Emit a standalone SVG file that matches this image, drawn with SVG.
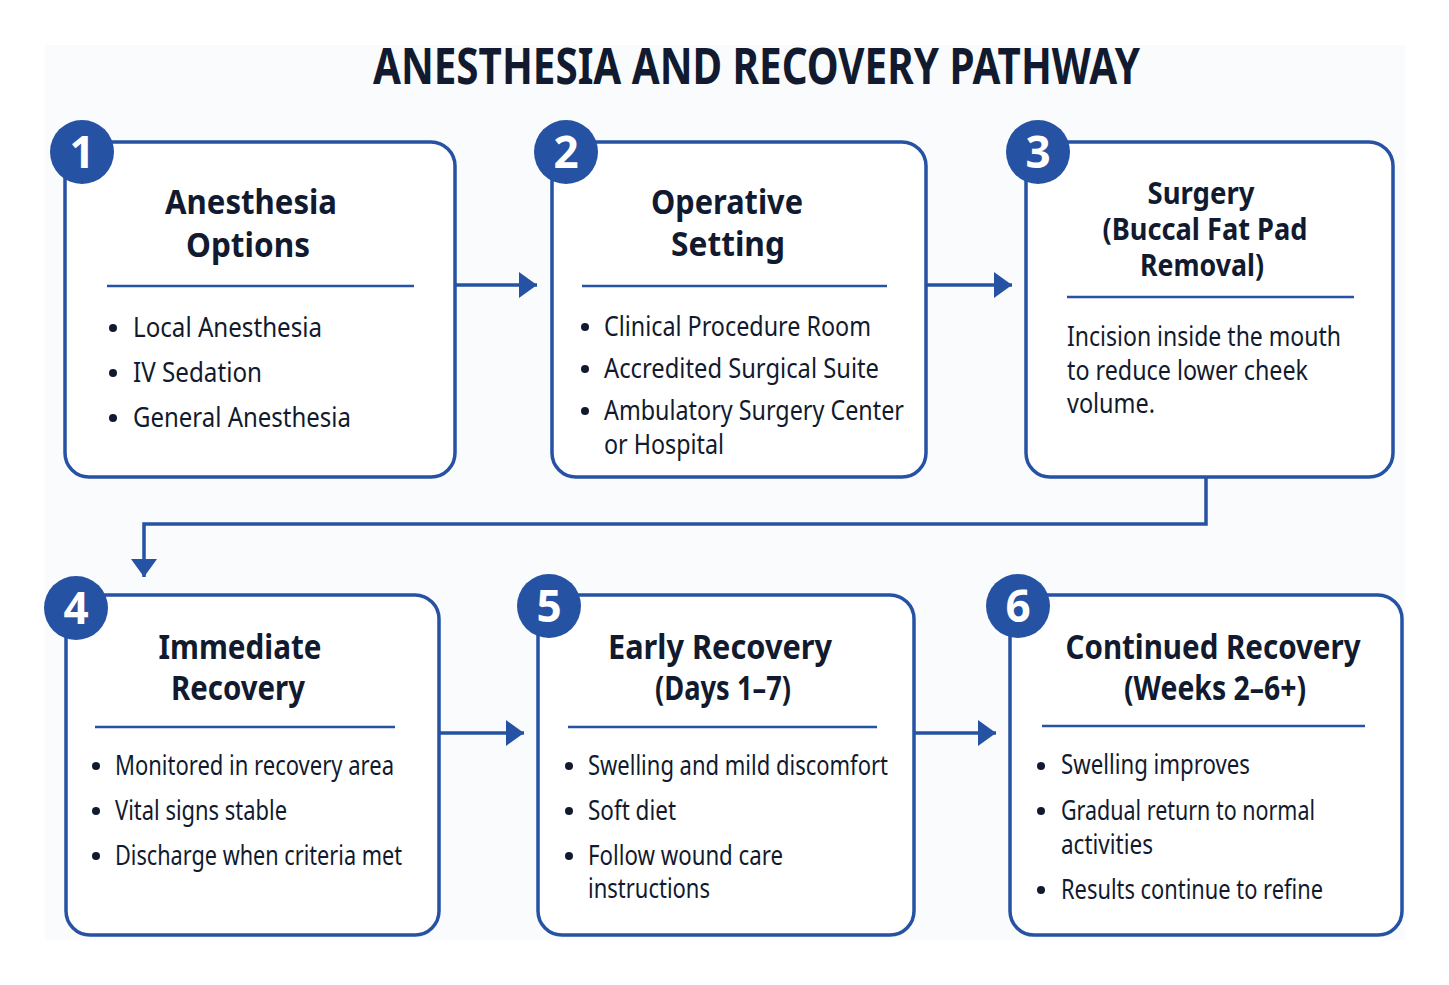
<svg xmlns="http://www.w3.org/2000/svg" width="1449" height="985" viewBox="0 0 1449 985">
<defs>
<style>
.box{fill:#ffffff;stroke:#2652a3;stroke-width:3.5}
.badge{fill:#2652a3}
.num{font-family:"Noto Sans","Liberation Sans",sans-serif;font-weight:700;font-size:44px;fill:#ffffff;text-anchor:middle}
.hd{font-family:"Noto Sans","Liberation Sans",sans-serif;font-weight:700;font-size:34px;fill:#111a2e;text-anchor:middle}
.hs{font-family:"Noto Sans","Liberation Sans",sans-serif;font-weight:700;font-size:30px;fill:#111a2e;text-anchor:middle}
.tx{font-family:"Noto Sans","Liberation Sans",sans-serif;font-size:28px;fill:#111a2e}
.div{stroke:#2652a3;stroke-width:2.5}
.dot{fill:#111a2e}
.con{fill:none;stroke:#2652a3;stroke-width:3.5}
.title{font-family:"Noto Sans","Liberation Sans",sans-serif;font-weight:700;font-size:50px;fill:#111a2e}
</style>
<marker id="ah" markerUnits="userSpaceOnUse" markerWidth="20" markerHeight="26" refX="18" refY="13" orient="auto">
<path d="M0,0 L18,13 L0,26 Z" fill="#2652a3"/>
</marker>
</defs>
<rect x="0" y="0" width="1449" height="985" fill="#ffffff"/>
<rect x="45" y="45" width="1360" height="895" fill="#fafbfc"/>
<text class="title" x="373" y="84" textLength="767" lengthAdjust="spacingAndGlyphs">ANESTHESIA AND RECOVERY PATHWAY</text>

<g id="connectors">
<path class="con" d="M455,285 H537" marker-end="url(#ah)"/>
<path class="con" d="M926,285 H1012" marker-end="url(#ah)"/>
<path class="con" d="M1206,477 V524 H144 V577" marker-end="url(#ah)"/>
<path class="con" d="M439,733 H524" marker-end="url(#ah)"/>
<path class="con" d="M914,733 H996" marker-end="url(#ah)"/>
</g>

<g id="node1">
<rect class="box" x="65" y="142" width="390" height="335" rx="24"/>
<circle class="badge" cx="82" cy="152" r="32"/>
<text class="num" x="82" y="168">1</text>
<text class="hd" x="251" y="214" textLength="172" lengthAdjust="spacingAndGlyphs">Anesthesia</text>
<text class="hd" x="248" y="257" textLength="124" lengthAdjust="spacingAndGlyphs">Options</text>
<line class="div" x1="107" y1="286" x2="414" y2="286"/>
<circle class="dot" cx="113" cy="328" r="4"/>
<text class="tx" x="133" y="337" textLength="189" lengthAdjust="spacingAndGlyphs">Local Anesthesia</text>
<circle class="dot" cx="113" cy="373" r="4"/>
<text class="tx" x="133" y="382" textLength="129" lengthAdjust="spacingAndGlyphs">IV Sedation</text>
<circle class="dot" cx="113" cy="418" r="4"/>
<text class="tx" x="133" y="427" textLength="218" lengthAdjust="spacingAndGlyphs">General Anesthesia</text>
</g>

<g id="node2">
<rect class="box" x="552" y="142" width="374" height="335" rx="24"/>
<circle class="badge" cx="566" cy="152" r="32"/>
<text class="num" x="566" y="168">2</text>
<text class="hd" x="727" y="214" textLength="152" lengthAdjust="spacingAndGlyphs">Operative</text>
<text class="hd" x="728" y="256" textLength="114" lengthAdjust="spacingAndGlyphs">Setting</text>
<line class="div" x1="582" y1="286" x2="887" y2="286"/>
<circle class="dot" cx="585" cy="327" r="4"/>
<text class="tx" x="604" y="336" textLength="267" lengthAdjust="spacingAndGlyphs">Clinical Procedure Room</text>
<circle class="dot" cx="585" cy="369" r="4"/>
<text class="tx" x="604" y="378" textLength="275" lengthAdjust="spacingAndGlyphs">Accredited Surgical Suite</text>
<circle class="dot" cx="585" cy="411" r="4"/>
<text class="tx" x="604" y="420" textLength="300" lengthAdjust="spacingAndGlyphs">Ambulatory Surgery Center</text>
<text class="tx" x="604" y="454" textLength="120" lengthAdjust="spacingAndGlyphs">or Hospital</text>
</g>

<g id="node3">
<rect class="box" x="1026" y="142" width="367" height="335" rx="24"/>
<circle class="badge" cx="1038" cy="152" r="32"/>
<text class="num" x="1038" y="168">3</text>
<text class="hs" x="1201" y="204" textLength="107" lengthAdjust="spacingAndGlyphs">Surgery</text>
<text class="hs" x="1205" y="240" textLength="205" lengthAdjust="spacingAndGlyphs">(Buccal Fat Pad</text>
<text class="hs" x="1202" y="276" textLength="124" lengthAdjust="spacingAndGlyphs">Removal)</text>
<line class="div" x1="1067" y1="297" x2="1354" y2="297"/>
<text class="tx" x="1067" y="346" textLength="274" lengthAdjust="spacingAndGlyphs">Incision inside the mouth</text>
<text class="tx" x="1067" y="380" textLength="241" lengthAdjust="spacingAndGlyphs">to reduce lower cheek</text>
<text class="tx" x="1067" y="413" textLength="88" lengthAdjust="spacingAndGlyphs">volume.</text>
</g>

<g id="node4">
<rect class="box" x="66" y="595" width="373" height="340" rx="24"/>
<circle class="badge" cx="76" cy="608" r="32"/>
<text class="num" x="76" y="624">4</text>
<text class="hd" x="240" y="659" textLength="163" lengthAdjust="spacingAndGlyphs">Immediate</text>
<text class="hd" x="238" y="700" textLength="134" lengthAdjust="spacingAndGlyphs">Recovery</text>
<line class="div" x1="95" y1="727" x2="395" y2="727"/>
<circle class="dot" cx="96" cy="766" r="4"/>
<text class="tx" x="115" y="775" textLength="279" lengthAdjust="spacingAndGlyphs">Monitored in recovery area</text>
<circle class="dot" cx="96" cy="811" r="4"/>
<text class="tx" x="115" y="820" textLength="172" lengthAdjust="spacingAndGlyphs">Vital signs stable</text>
<circle class="dot" cx="96" cy="856" r="4"/>
<text class="tx" x="115" y="865" textLength="287" lengthAdjust="spacingAndGlyphs">Discharge when criteria met</text>
</g>

<g id="node5">
<rect class="box" x="538" y="595" width="376" height="340" rx="24"/>
<circle class="badge" cx="549" cy="606" r="32"/>
<text class="num" x="549" y="622">5</text>
<text class="hd" x="720" y="659" textLength="224" lengthAdjust="spacingAndGlyphs">Early Recovery</text>
<text class="hd" x="723" y="700" textLength="136" lengthAdjust="spacingAndGlyphs">(Days 1–7)</text>
<line class="div" x1="568" y1="727" x2="877" y2="727"/>
<circle class="dot" cx="569" cy="766" r="4"/>
<text class="tx" x="588" y="775" textLength="300" lengthAdjust="spacingAndGlyphs">Swelling and mild discomfort</text>
<circle class="dot" cx="569" cy="811" r="4"/>
<text class="tx" x="588" y="820" textLength="88" lengthAdjust="spacingAndGlyphs">Soft diet</text>
<circle class="dot" cx="569" cy="856" r="4"/>
<text class="tx" x="588" y="865" textLength="195" lengthAdjust="spacingAndGlyphs">Follow wound care</text>
<text class="tx" x="588" y="898" textLength="122" lengthAdjust="spacingAndGlyphs">instructions</text>
</g>

<g id="node6">
<rect class="box" x="1010" y="595" width="392" height="340" rx="24"/>
<circle class="badge" cx="1018" cy="606" r="32"/>
<text class="num" x="1018" y="622">6</text>
<text class="hd" x="1213" y="659" textLength="295" lengthAdjust="spacingAndGlyphs">Continued Recovery</text>
<text class="hd" x="1215" y="700" textLength="182" lengthAdjust="spacingAndGlyphs">(Weeks 2–6+)</text>
<line class="div" x1="1042" y1="726" x2="1365" y2="726"/>
<circle class="dot" cx="1041" cy="766" r="4"/>
<text class="tx" x="1061" y="774" textLength="189" lengthAdjust="spacingAndGlyphs">Swelling improves</text>
<circle class="dot" cx="1041" cy="811" r="4"/>
<text class="tx" x="1061" y="820" textLength="254" lengthAdjust="spacingAndGlyphs">Gradual return to normal</text>
<text class="tx" x="1061" y="854" textLength="92" lengthAdjust="spacingAndGlyphs">activities</text>
<circle class="dot" cx="1041" cy="890" r="4"/>
<text class="tx" x="1061" y="899" textLength="262" lengthAdjust="spacingAndGlyphs">Results continue to refine</text>
</g>
</svg>
